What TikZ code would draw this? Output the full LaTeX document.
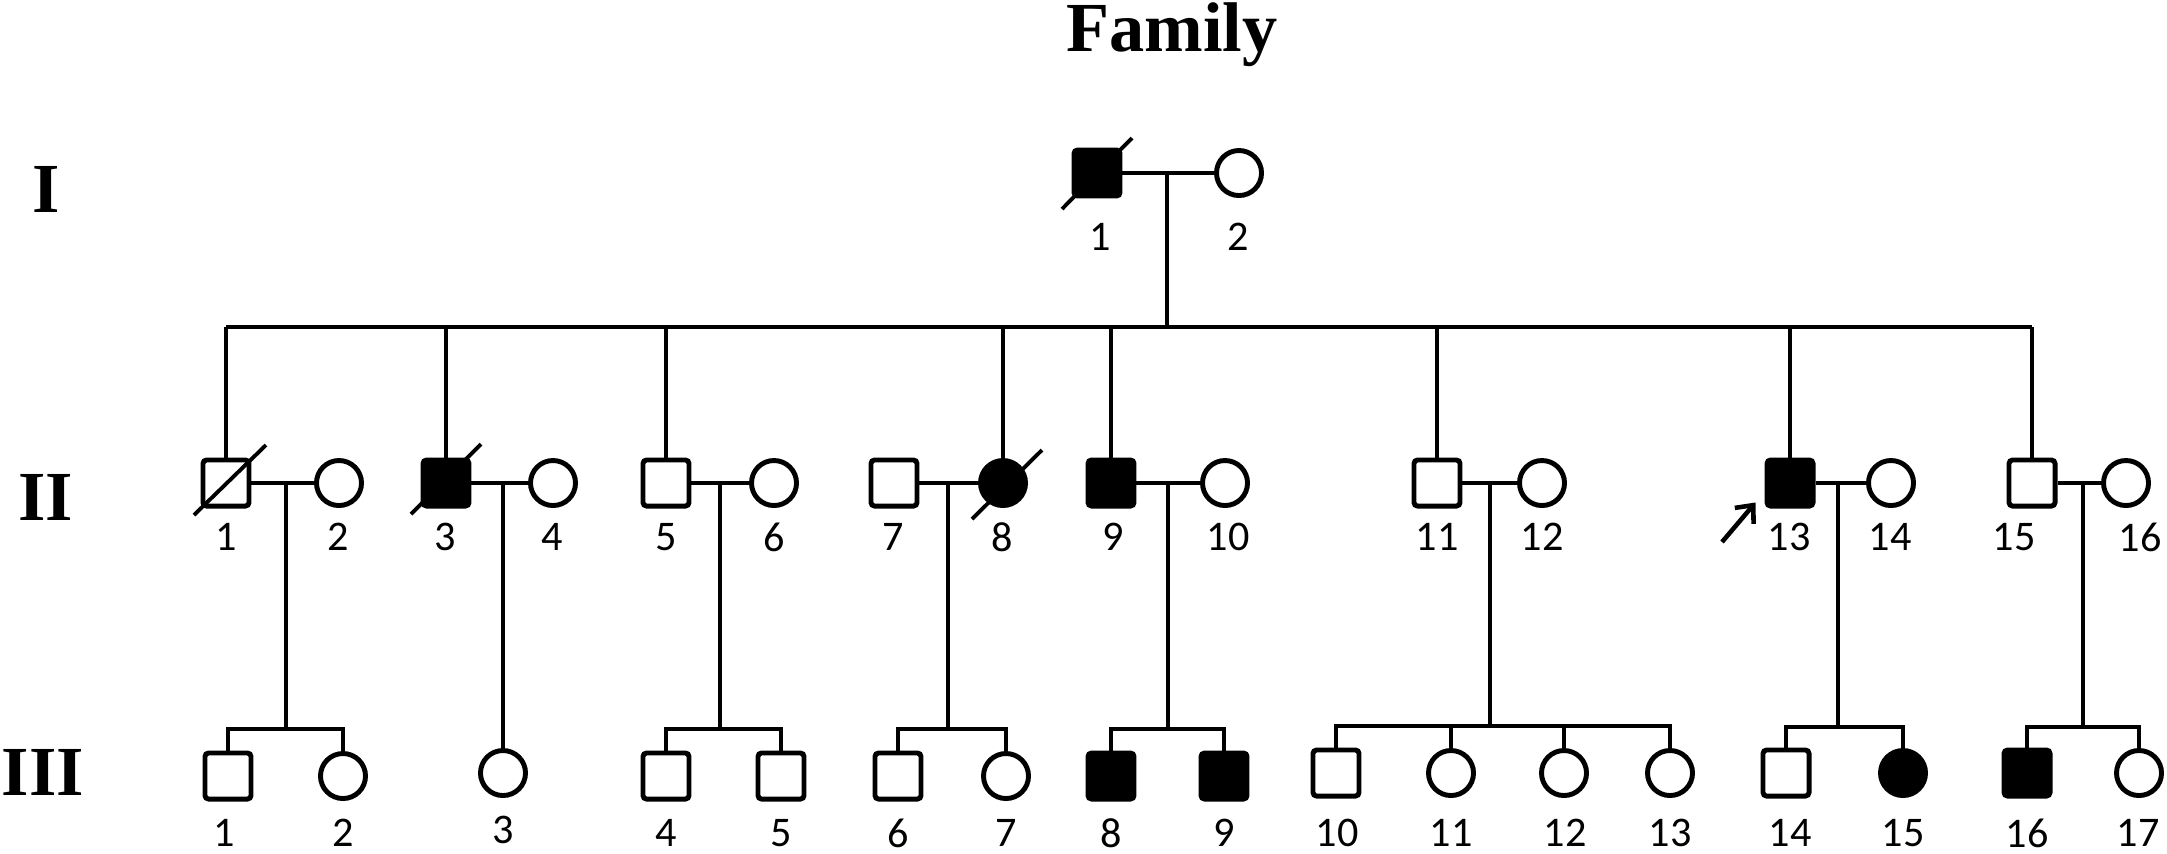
\documentclass[tikz,border=0pt]{standalone}
\usepackage{fontspec}
\setmainfont{Liberation Serif}
\newfontfamily\numfont{Carlito}
\usepackage{tikz}
\usetikzlibrary{positioning, arrows.meta}

\begin{document}
\begin{tikzpicture}[
      x=0.01cm, y=-0.01cm,
      line width=1.1pt,
      male/.style = {shape=rectangle, draw, line width=1.4pt,
        rounded corners=1pt, minimum size=0.46cm, inner sep=0pt},
      female/.style = {shape=circle, draw, line width=1.4pt,
        minimum size=0.45cm, inner sep=0pt},
      aff/.style = {fill=black},
      num/.style = {font=\numfont\fontsize{12}{14}\selectfont, inner sep=0pt},
      gen/.style = {font=\bfseries\fontsize{20}{24}\selectfont, anchor=base}
    ]
        \useasboundingbox (0,0) rectangle (2167,853);

        % title and generations
        \node[gen] (title) at (1172,51) {Family};
        \node[gen] (genI) at (46,212) {I};
        \node[gen] (genII) at (46,520) {II};
        \node[gen] (genIII) at (43,795) {III};

        % generation I
        \node[male, aff] (I1) at (1097,173) {};
        \node[female] (I2) at (1239,173) {};
        \node[num] at (1100,237) {1};
        \node[num] at (1238,237) {2};
        \draw ([shift={(-35,36)}]I1.center) -- ([shift={(35,-35)}]I1.center);

        % generation II
        \node[male] (II1) at (226,483) {};
        \node[female] (II2) at (339,483) {};
        \node[male, aff] (II3) at (446,483) {};
        \node[female] (II4) at (553,483) {};
        \node[male] (II5) at (666,483) {};
        \node[female] (II6) at (774,483) {};
        \node[male] (II7) at (894,483) {};
        \node[female, aff] (II8) at (1003,483) {};
        \node[male, aff] (II9) at (1111,483) {};
        \node[female] (II10) at (1225,483) {};
        \node[male] (II11) at (1437,483) {};
        \node[female] (II12) at (1542,483) {};
        \node[male, aff] (II13) at (1790,483) {};
        \node[female] (II14) at (1891,483) {};
        \node[male] (II15) at (2032,483) {};
        \node[female] (II16) at (2126,483) {};

        \node[num] at (226,537) {1};
        \node[num] at (338,537) {2};
        \node[num] at (445,537) {3};
        \node[num] at (552,537) {4};
        \node[num] at (666,537) {5};
        \node[num] at (774,537) {6};
        \node[num] at (893,537) {7};
        \node[num] at (1002,537) {8};
        \node[num] at (1113,537) {9};
        \node[num] at (1228,537) {10};
        \node[num] at (1437,537) {11};
        \node[num] at (1542,537) {12};
        \node[num] at (1789,537) {13};
        \node[num] at (1890,537) {14};
        \node[num] at (2014,537) {15};
        \node[num] at (2140,537) {16};

        \draw ([shift={(-32,32)}]II1.center) -- ([shift={(40,-38)}]II1.center);
        \draw ([shift={(-35,31)}]II3.center) -- ([shift={(35,-39)}]II3.center);
        \draw ([shift={(-31,36)}]II8.center) -- ([shift={(39,-33)}]II8.center);

        % proband
        \coordinate (prb) at (1722,542);
        \draw[line width=1.3pt, -{Straight Barb[length=4pt, width=7pt]}] (prb) -- ([shift={(-9,-6)}]II13.south west);

        % generation III
        \node[male] (III1) at (228,776) {};
        \node[female] (III2) at (343,776) {};
        \node[female] (III3) at (503,773) {};
        \node[male] (III4) at (666,776) {};
        \node[male] (III5) at (781,776) {};
        \node[male] (III6) at (898,776) {};
        \node[female] (III7) at (1006,776) {};
        \node[male, aff] (III8) at (1111,776) {};
        \node[male, aff] (III9) at (1224,776) {};
        \node[male] (III10) at (1336,773) {};
        \node[female] (III11) at (1451,773) {};
        \node[female] (III12) at (1564,773) {};
        \node[female] (III13) at (1670,773) {};
        \node[male] (III14) at (1786,773) {};
        \node[female, aff] (III15) at (1903,773) {};
        \node[male, aff] (III16) at (2027,773) {};
        \node[female] (III17) at (2139,773) {};

        \node[num] at (224,833) {1};
        \node[num] at (343,833) {2};
        \node[num] at (503,830) {3};
        \node[num] at (666,833) {4};
        \node[num] at (781,833) {5};
        \node[num] at (898,833) {6};
        \node[num] at (1006,833) {7};
        \node[num] at (1111,833) {8};
        \node[num] at (1224,833) {9};
        \node[num] at (1337,833) {10};
        \node[num] at (1451,833) {11};
        \node[num] at (1565,833) {12};
        \node[num] at (1670,833) {13};
        \node[num] at (1790,833) {14};
        \node[num] at (1903,833) {15};
        \node[num] at (2027,833) {16};
        \node[num] at (2138,833) {17};

        % marriages and descent
        \draw (I1) -- (I2);
        \coordinate (mI) at (1167,173);
        \coordinate (sI) at (1167,327);
        \draw (mI) -- (sI);
        \draw (II1 |- sI) -- (II15 |- sI);
        \draw (II1 |- sI) -- (II1);
        \draw (II3 |- sI) -- (II3);
        \draw (II5 |- sI) -- (II5);
        \draw (II8 |- sI) -- (II8);
        \draw (II9 |- sI) -- (II9);
        \draw (II11 |- sI) -- (II11);
        \draw (II13 |- sI) -- (II13);
        \draw (II15 |- sI) -- (II15);

        \draw (II1) -- (II2);
        \draw (II3) -- (II4);
        \draw (II5) -- (II6);
        \draw (II7) -- (II8);
        \draw (II9) -- (II10);
        \draw (II11) -- (II12);
        \draw (II13) -- (II14);
        \draw (II15) -- (II16);

        \coordinate (m1) at (286,483);
        \coordinate (m2) at (503,483);
        \coordinate (m3) at (720,483);
        \coordinate (m4) at (948,483);
        \coordinate (m5) at (1168,483);
        \coordinate (m6) at (1490,483);
        \coordinate (m7) at (1838,483);
        \coordinate (m8) at (2083,483);

        \draw (m1) -- (286,729) coordinate (s1);
        \draw (III1.north) |- (s1) -| (III2.north);
        \draw (m2) -- (III3);
        \draw (m3) -- (720,729) coordinate (s3);
        \draw (III4.north) |- (s3) -| (III5.north);
        \draw (m4) -- (948,729) coordinate (s4);
        \draw (III6.north) |- (s4) -| (III7.north);
        \draw (m5) -- (1168,729) coordinate (s5);
        \draw (III8.north) |- (s5) -| (III9.north);
        \draw (m6) -- (1490,726) coordinate (s6);
        \draw (III10.north) |- (s6) -| (III13.north);
        \draw (III11 |- s6) -- (III11);
        \draw (III12 |- s6) -- (III12);
        \draw (m7) -- (1838,727) coordinate (s7);
        \draw (III14.north) |- (s7) -| (III15.north);
        \draw (m8) -- (2083,727) coordinate (s8);
        \draw (III16.north) |- (s8) -| (III17.north);
    \end{tikzpicture}
\end{document}
